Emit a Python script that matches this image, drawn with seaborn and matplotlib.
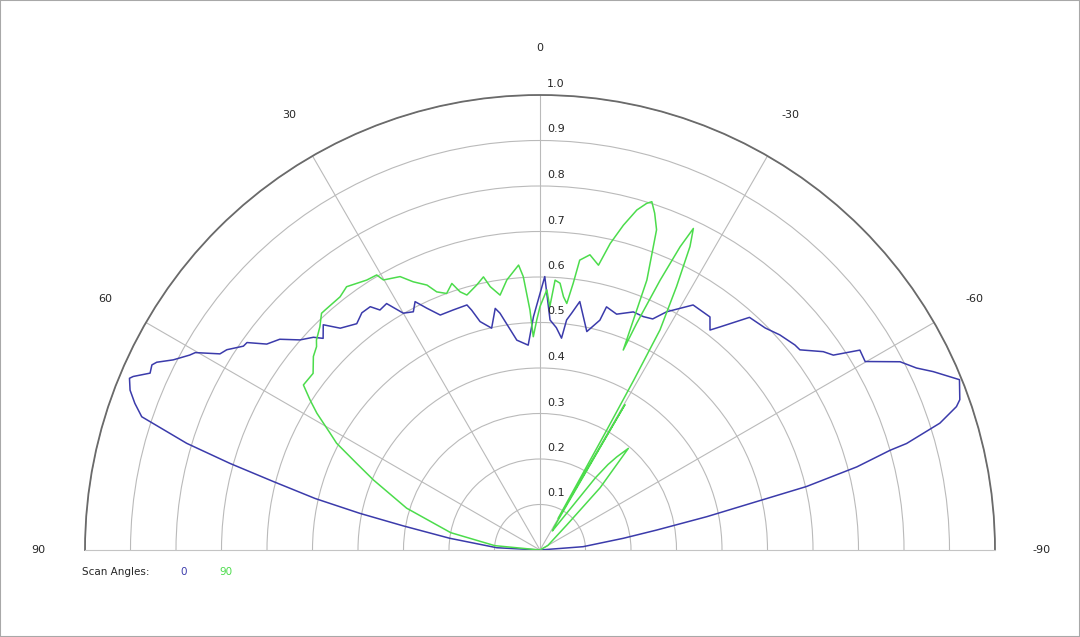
import numpy as np
import pandas as pd
import matplotlib
matplotlib.use('Agg')
import matplotlib.pyplot as plt
import matplotlib.transforms as mtransforms
from matplotlib.patches import Rectangle
import seaborn as sns

# scan angle 0 (blue): angle in degrees (+ = left), relative value
scan0_deg = [90, 87, 82.6, 80.0, 78.5, 77.1, 75.6, 74.4, 73.2, 72.4, 71.5, 70.1, 68.7, 67.3,
             66.9, 65.6, 64.5, 63.9, 62.6, 60.9, 60.2, 58.5, 57.4, 55.5, 54.7, 53.0, 51.0,
             48.8, 46.8, 45.7, 43.9, 42.0, 39.0, 36.9, 34.9, 33.7, 31.9, 30.0, 28.0, 26.7,
             25.1, 23.0, 19.9, 16.6, 15.9, 14.7, 12.3, 10.5, 9.6, 6.3, 3.3, 1.6, -1.0, -2.5,
             -4.2, -5.8, -6.6, -7.6, -9.1, -12.1, -14.6, -15.3, -18.0, -21.4, -23.9, -26.0,
             -28.0, -32.0, -36.1, -37.7, -38.9, -42.0, -45.4, -48.1, -51.2, -52.4, -55.0,
             -56.4, -58.0, -59.9, -62.4, -64.2, -65.6, -67.9, -70.3, -71.0, -72.4, -73.8,
             -74.1, -75.3, -76.6, -77.4, -78.7, -80.3, -82.0, -85.6, -90]
scan0_r = [0.0, 0.095, 0.20, 0.305, 0.404, 0.507, 0.605, 0.707, 0.811, 0.86, 0.923, 0.947,
           0.967, 0.978, 0.972, 0.941, 0.945, 0.938, 0.908, 0.881, 0.873, 0.825, 0.817,
           0.791, 0.789, 0.752, 0.736, 0.701, 0.683, 0.666, 0.687, 0.656, 0.640, 0.652,
           0.652, 0.634, 0.638, 0.601, 0.593, 0.611, 0.587, 0.561, 0.561, 0.562, 0.548,
           0.519, 0.499, 0.540, 0.528, 0.464, 0.451, 0.513, 0.601, 0.506, 0.490, 0.468,
           0.509, 0.525, 0.553, 0.491, 0.522, 0.554, 0.545, 0.562, 0.561, 0.565, 0.593,
           0.635, 0.634, 0.611, 0.630, 0.688, 0.695, 0.708, 0.719, 0.721, 0.760, 0.774,
           0.829, 0.826, 0.893, 0.919, 0.949, 0.995, 0.980, 0.968, 0.922, 0.839, 0.800,
           0.720, 0.602, 0.488, 0.374, 0.260, 0.185, 0.095, 0.0]

# scan angle 90 (green)
scan90_deg = [90, 84.5, 79.0, 72.6, 67.2, 64.7, 62.3, 60.9, 58.5, 56.9, 55.1, 52.1, 49.5,
              47.7, 46.8, 44.6, 42.7, 41.8, 38.3, 36.3, 32.7, 30.7, 30.1, 27.1, 25.3, 23.1,
              21.8, 20.0, 18.3, 17.2, 16.0, 13.4, 11.7, 10.7, 8.9, 7.0, 4.3, 3.5, 2.4, 1.8,
              0.8, 0.0, -1.5, -2.3, -3.2, -4.3, -5.3, -6.2, -7.1, -7.8, -9.6, -11.6, -12.9,
              -14.4, -15.9, -17.1, -17.8, -18.8, -20.0, -21.6, -22.1, -22.6, -23.1, -24.0,
              -24.8, -25.5, -26.3, -27.4, -28.6, -28.9, -29.1, -29.8, -30.3, -31.5, -33.0,
              -36.5, -37.5, -38.5, -39.5, -41.0, -44.0, -47.0, -60.0, -90]
scan90_r = [0.0, 0.10, 0.20, 0.307, 0.397, 0.446, 0.505, 0.528, 0.575, 0.603, 0.634, 0.632,
            0.655, 0.664, 0.674, 0.689, 0.708, 0.708, 0.709, 0.718, 0.705, 0.703, 0.686,
            0.675, 0.652, 0.633, 0.611, 0.600, 0.617, 0.594, 0.583, 0.599, 0.613, 0.589,
            0.567, 0.598, 0.628, 0.602, 0.528, 0.469, 0.506, 0.535, 0.572, 0.535, 0.594,
            0.588, 0.559, 0.545, 0.591, 0.643, 0.658, 0.639, 0.691, 0.737, 0.777, 0.797,
            0.804, 0.782, 0.749, 0.638, 0.545, 0.476, 0.542, 0.649, 0.734, 0.783, 0.744,
            0.652, 0.551, 0.426, 0.302, 0.08, 0.37, 0.06, 0.05, 0.12, 0.20, 0.24, 0.265,
            0.296, 0.19, 0.08, 0.02, 0.0]

scan_names = ['0', '90']
scan_colors = ['#3b3bab', '#4cdc4c']
ring_values = [0.1, 0.2, 0.3, 0.4, 0.5, 0.6, 0.7, 0.8, 0.9, 1.0]
ring_labels = ['0.1', '0.2', '0.3', '0.4', '0.5', '0.6', '0.7', '0.8', '0.9', '1.0']
angle_ticks = [90, 60, 30, 0, -30, -60, -90]
angle_labels = ['90', '60', '30', '0', '-30', '-60', '-90']

sns.set_style('white')
plt.rcParams['font.family'] = ['DejaVu Sans']

df = pd.concat([
    pd.DataFrame({'theta': np.deg2rad(scan0_deg), 'r': scan0_r, 'scan': scan_names[0]}),
    pd.DataFrame({'theta': np.deg2rad(scan90_deg), 'r': scan90_r, 'scan': scan_names[1]}),
], ignore_index=True)

fig = plt.figure(figsize=(10.8, 6.37), dpi=100)
# square box (polar aspect), half-disc centred in it: centre at (540, 550) px, radius 455 px
ax = fig.add_axes([85 / 1080, -140.5 / 637, 910 / 1080, 910 / 637], projection='polar')
ax.set_theta_zero_location('N')
ax.set_theta_direction(1)
ax.set_thetamin(-90)
ax.set_thetamax(90)

sns.lineplot(data=df, x='theta', y='r', hue='scan', palette=dict(zip(scan_names, scan_colors)),
             sort=False, estimator=None, legend=False, ax=ax, lw=1.1)

ax.set_ylim(0, 1)
ax.set_xlabel('')
ax.set_ylabel('')
ax.set_xticks(np.deg2rad([-60, -30, 0, 30, 60]))
ax.set_xticklabels([])
ax.set_yticks(ring_values)
ax.set_yticklabels([])
ax.tick_params(length=0)
ax.grid(True, color='#bababa', lw=0.8)
ax.set_axisbelow(True)
ax.spines['polar'].set_color('#6a6a6a')
ax.spines['polar'].set_linewidth(1.3)
ax.spines['start'].set_color('#c4c4c4')
ax.spines['end'].set_color('#c4c4c4')
ax.spines['inner'].set_visible(False)

for deg, lab in zip(angle_ticks, angle_labels):
    ax.text(np.deg2rad(deg), 1.103, lab, ha='center', va='center', fontsize=8, clip_on=False)

trans = mtransforms.offset_copy(ax.transData, fig=fig, x=16, y=11, units='dots')
for r, lab in zip(ring_values, ring_labels):
    ax.text(0, r, lab, transform=trans, ha='center', va='center', fontsize=8, clip_on=False)

ly = 1 - 572 / 637
fig.text(82 / 1080, ly, 'Scan Angles:', ha='left', va='center', fontsize=7.5)
fig.text(184 / 1080, ly, scan_names[0], color=scan_colors[0], ha='center', va='center', fontsize=7.5)
fig.text(226 / 1080, ly, scan_names[1], color=scan_colors[1], ha='center', va='center', fontsize=7.5)

fig.patches.append(Rectangle((0, 0), 1, 1, transform=fig.transFigure, fill=False,
                             edgecolor='#a8a8a8', lw=1.5))

fig.savefig('out.png', dpi=100)
